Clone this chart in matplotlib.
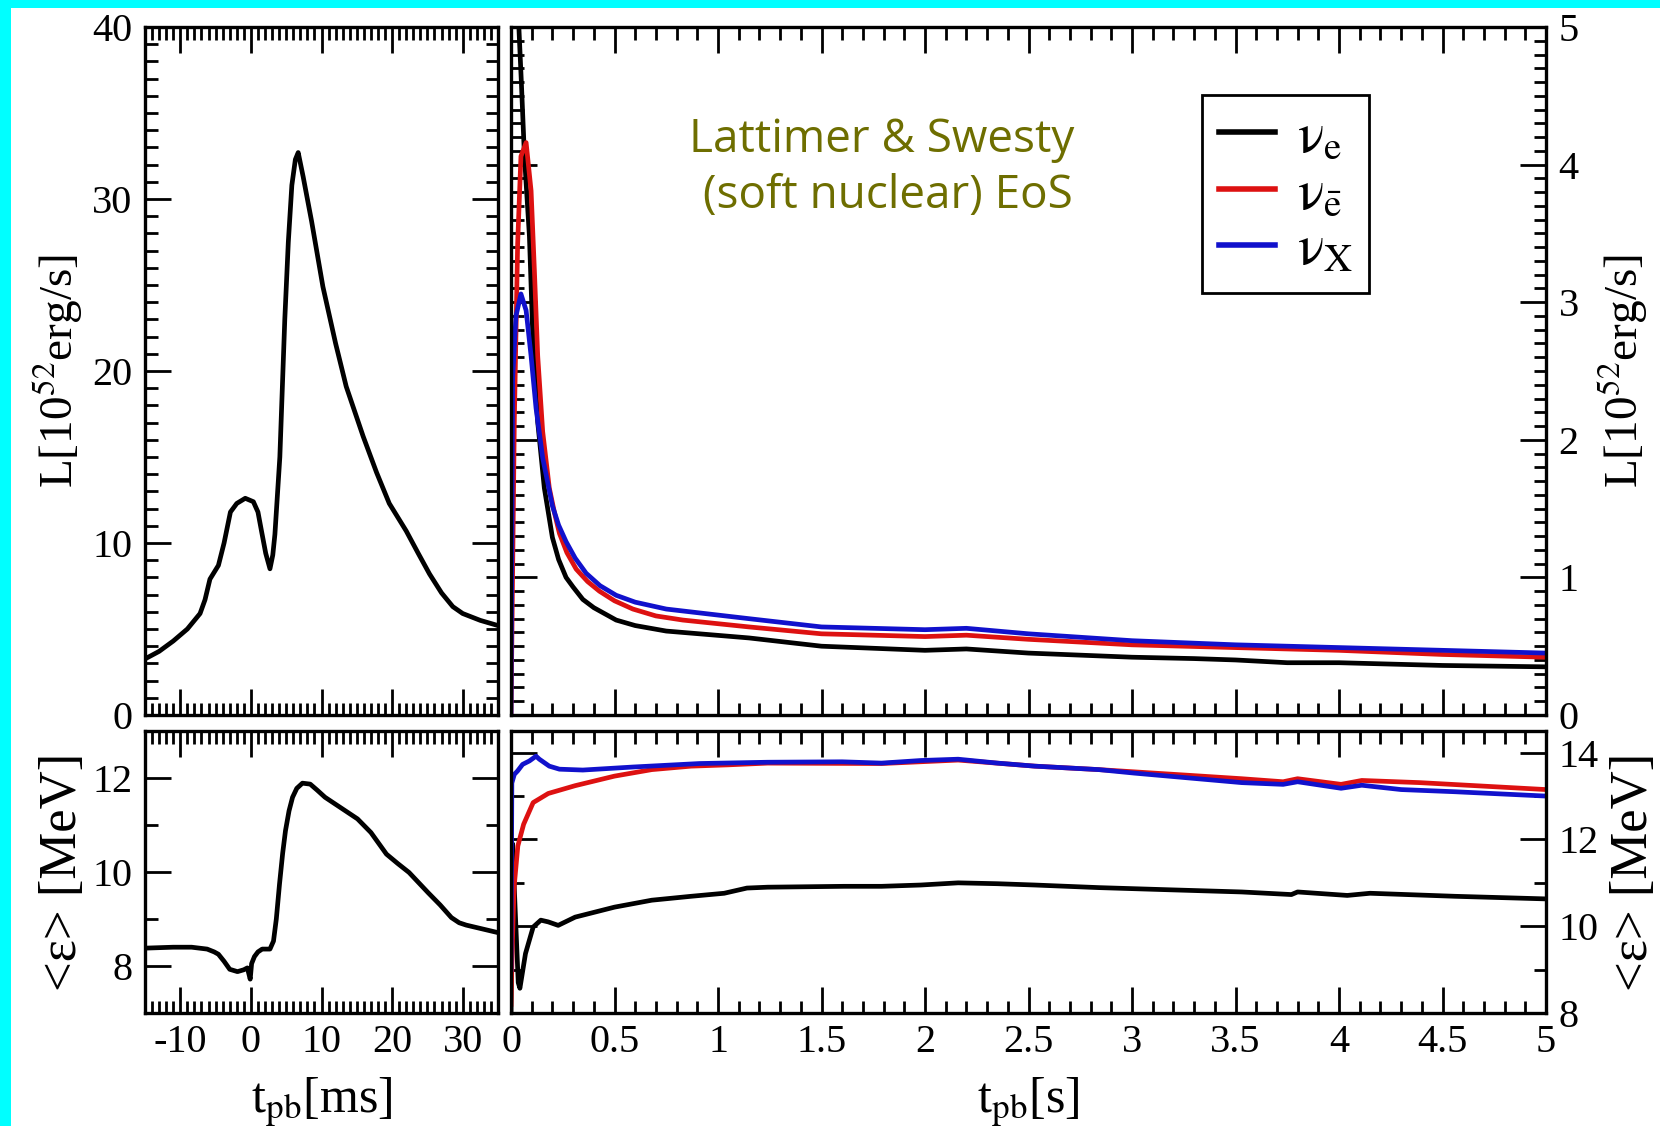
import matplotlib
matplotlib.use("Agg")
import matplotlib.pyplot as plt
import matplotlib.patches as patches
from matplotlib.ticker import MultipleLocator

plt.rcParams['font.family'] = ['Liberation Serif', 'DejaVu Serif']
plt.rcParams['mathtext.fontset'] = 'stix'
plt.rcParams['axes.unicode_minus'] = False

# --- luminosity / mean energy around bounce (ms), nu_e only ---
ms_lum_t = [-15, -13, -11, -9, -7.2, -6.5, -5.8, -4.6, -3.8, -2.9, -2.0, -0.8, 0.35, 1.0,
            1.5, 2.1, 2.7, 3.1, 3.4, 4.1, 4.8, 5.3, 5.8, 6.3, 6.7, 7.4, 8.6, 10.2, 12.0,
            13.5, 15.9, 17.8, 19.6, 22.0, 23.7, 25.3, 27.0, 28.6, 30.0, 32.5, 35.0]
ms_lum = [3.26, 3.7, 4.3, 5.0, 5.9, 6.7, 7.9, 8.7, 10.0, 11.8, 12.3, 12.6, 12.4, 11.8,
          10.7, 9.4, 8.5, 9.3, 10.5, 15.0, 23.0, 27.5, 30.8, 32.3, 32.7, 31.3, 28.7, 24.9, 21.6,
          19.1, 16.2, 14.1, 12.3, 10.7, 9.4, 8.2, 7.1, 6.3, 5.9, 5.5, 5.2]

ms_e_t = [-15, -11, -8.4, -6.2, -5.2, -4.6, -3.8, -3.0, -1.9, -1.0, -0.5, -0.1, 0.1, 0.5,
          1.0, 1.6, 2.7, 3.2, 3.6, 4.05, 4.5, 4.9, 5.4, 5.9, 6.5, 7.3, 8.4, 9.4, 10.5, 12.7,
          15.1, 17.0, 19.2, 20.8, 22.4, 25.1, 26.8, 28.4, 29.5, 30.5, 35.0]
ms_e = [8.38, 8.40, 8.40, 8.36, 8.30, 8.25, 8.10, 7.93, 7.88, 7.92, 7.96, 7.72, 8.05, 8.20,
        8.30, 8.36, 8.36, 8.53, 9.00, 9.74, 10.40, 10.88, 11.30, 11.59, 11.78, 11.89, 11.87,
        11.74, 11.59, 11.37, 11.13, 10.84, 10.38, 10.18, 9.99, 9.56, 9.30, 9.03, 8.92, 8.87, 8.71]

# --- long-term luminosities (s) ---
nue_lum_t = [0.0, 0.005, 0.007, 0.010, 0.016, 0.022, 0.029, 0.035, 0.05, 0.065, 0.089, 0.105,
             0.129, 0.161, 0.2, 0.23, 0.266, 0.3, 0.347, 0.4, 0.508, 0.6, 0.75, 1.15, 1.5,
             2.0, 2.2, 2.5, 3.0, 3.3, 3.5, 3.75, 4.0, 4.5, 5.0]
nue_lum = [12.4, 23.0, 32.7, 24.9, 16.2, 10.7, 6.3, 5.1, 4.6, 4.06, 3.48, 2.77,
           2.13, 1.65, 1.29, 1.13, 1.0, 0.93, 0.84, 0.78, 0.69, 0.65, 0.61, 0.56, 0.50,
           0.47, 0.48, 0.45, 0.42, 0.41, 0.40, 0.38, 0.38, 0.36, 0.35]

anue_lum_t = [0.0, 0.016, 0.032, 0.048, 0.073, 0.097, 0.113, 0.129, 0.153, 0.185, 0.21, 0.234,
              0.27, 0.315, 0.37, 0.427, 0.5, 0.589, 0.7, 0.83, 1.15, 1.5, 2.0, 2.2, 2.5, 3.0,
              3.5, 4.0, 4.5, 5.0]
anue_lum = [0.0, 2.13, 3.42, 4.06, 4.16, 3.81, 3.23, 2.61, 2.06, 1.65, 1.47, 1.32,
            1.18, 1.06, 0.97, 0.90, 0.83, 0.77, 0.72, 0.69, 0.64, 0.59, 0.57, 0.58, 0.55, 0.51,
            0.49, 0.47, 0.44, 0.42]

nux_lum_t = [0.0, 0.008, 0.024, 0.048, 0.073, 0.097, 0.121, 0.153, 0.2, 0.23, 0.266, 0.31,
             0.363, 0.43, 0.508, 0.6, 0.75, 1.15, 1.5, 2.0, 2.2, 2.5, 3.0, 3.5, 4.0, 4.5, 5.0]
nux_lum = [0.0, 2.45, 2.9, 3.06, 2.94, 2.61, 2.23, 1.87, 1.52, 1.38, 1.26, 1.14,
           1.03, 0.94, 0.87, 0.82, 0.77, 0.70, 0.64, 0.62, 0.63, 0.59, 0.54, 0.51, 0.49, 0.47,
           0.45]

# --- long-term mean energies (s) ---
nue_e_t = [0.0, 0.0075, 0.02, 0.035, 0.043, 0.07, 0.107, 0.144, 0.18, 0.228, 0.31, 0.5, 0.68,
           0.87, 1.03, 1.14, 1.24, 1.61, 1.79, 1.98, 2.16, 2.35, 2.53, 2.84, 3.18, 3.53,
           3.77, 3.80, 4.04, 4.15, 4.56, 5.0]
nue_e = [7.9, 11.9, 10.4, 8.7, 8.57, 9.37, 9.98, 10.14, 10.10, 10.02, 10.21, 10.44, 10.6,
         10.69, 10.76, 10.88, 10.9, 10.92, 10.92, 10.95, 11.0, 10.98, 10.95, 10.89, 10.84, 10.79,
         10.73, 10.79, 10.71, 10.76, 10.69, 10.63]

anue_e_t = [0.0, 0.006, 0.015, 0.033, 0.061, 0.107, 0.18, 0.31, 0.5, 0.68, 0.87, 1.05, 1.24,
            1.79, 2.16, 2.53, 2.84, 3.27, 3.53, 3.73, 3.80, 4.01, 4.11, 4.39, 5.0]
anue_e = [8.2, 9.5, 10.9, 11.85, 12.35, 12.85, 13.06, 13.24, 13.46, 13.61, 13.69, 13.72, 13.76,
          13.75, 13.83, 13.69, 13.61, 13.48, 13.40, 13.33, 13.40, 13.27, 13.36, 13.31, 13.15]

nux_e_t = [0.0, 0.004, 0.016, 0.032, 0.056, 0.089, 0.121, 0.137, 0.185, 0.234, 0.347, 0.59,
           0.91, 1.24, 1.6, 1.79, 1.98, 2.16, 2.35, 2.53, 2.84, 3.01, 3.27, 3.53, 3.73, 3.80,
           4.01, 4.11, 4.30, 4.56, 5.0]
nux_e = [9.0, 13.3, 13.5, 13.58, 13.73, 13.81, 13.92, 13.85, 13.69, 13.62, 13.6, 13.67,
         13.75, 13.78, 13.79, 13.76, 13.82, 13.85, 13.76, 13.69, 13.61, 13.53, 13.42, 13.31,
         13.27, 13.33, 13.18, 13.25, 13.15, 13.10, 13.0]

labels = [r'$\mathrm{\nu}_{\mathrm{e}}$', r'$\mathrm{\nu}_{\bar{\mathrm{e}}}$',
          r'$\mathrm{\nu}_{\mathrm{X}}$']
colors = ['black', '#dd1111', '#1111cc']

TICK_FS = 29
LABEL_FS = 34
E_LABEL_FS = 38
LW = 3.4
W, H = 1660, 1126

fig = plt.figure(figsize=(W / 100, H / 100), dpi=100)
fig.patch.set_facecolor('white')

# cyan frame on the left and top edges
fig.patches.append(patches.Rectangle((0, 0), 11 / W, 1, transform=fig.transFigure,
                                     facecolor='#00ffff', edgecolor='none'))
fig.patches.append(patches.Rectangle((0, 1 - 8 / H), 1, 8 / H, transform=fig.transFigure,
                                     facecolor='#00ffff', edgecolor='none'))


def box(x0, y0, x1, y1):
    """pixel box (top-left origin) -> figure fraction rect"""
    return [x0 / W, 1 - y1 / H, (x1 - x0) / W, (y1 - y0) / H]


ax_lms = fig.add_axes(box(145, 27, 498, 715))
ax_ls = fig.add_axes(box(511, 27, 1546, 715))
ax_ems = fig.add_axes(box(145, 731, 498, 1013))
ax_es = fig.add_axes(box(511, 731, 1546, 1013))


def style(ax, xmaj, xmin, ymaj, ymin):
    ax.xaxis.set_major_locator(MultipleLocator(xmaj))
    ax.xaxis.set_minor_locator(MultipleLocator(xmin))
    ax.yaxis.set_major_locator(MultipleLocator(ymaj))
    ax.yaxis.set_minor_locator(MultipleLocator(ymin))
    ax.tick_params(which='both', direction='in', top=True, right=True,
                   labelsize=TICK_FS, width=2.0)
    ax.tick_params(which='major', length=19)
    ax.tick_params(which='minor', length=9)
    ax.tick_params(axis='y', pad=9)
    ax.tick_params(axis='x', pad=8)
    for sp in ax.spines.values():
        sp.set_linewidth(2.4)


# top left: luminosity around bounce
ax_lms.plot(ms_lum_t, ms_lum, color='black', lw=LW)
ax_lms.set_xlim(-15, 35)
ax_lms.set_ylim(0, 40)
style(ax_lms, 10, 1, 10, 1)
ax_lms.tick_params(labelbottom=False)
ax_lms.set_ylabel(r'L[10$^{52}$erg/s]', fontsize=LABEL_FS, labelpad=5)

# bottom left: mean energy around bounce
ax_ems.plot(ms_e_t, ms_e, color='black', lw=LW)
ax_ems.set_xlim(-15, 35)
ax_ems.set_ylim(7, 13)
style(ax_ems, 10, 1, 2, 1)
ax_ems.set_ylabel('<ε> [MeV]', fontsize=E_LABEL_FS, labelpad=4)
ax_ems.set_xlabel(r't$_{\mathrm{pb}}$[ms]', fontsize=LABEL_FS + 2, labelpad=10)

# top right: long-term luminosities
for t, v, c, lab in zip([nue_lum_t, anue_lum_t, nux_lum_t],
                        [nue_lum, anue_lum, nux_lum], colors, labels):
    ax_ls.plot(t, v, color=c, lw=LW, label=lab)
ax_ls.set_xlim(0, 5)
ax_ls.set_ylim(0, 5)
style(ax_ls, 0.5, 0.1, 1, 0.1)
ax_ls.tick_params(labelbottom=False, labelleft=False, labelright=True)
ax_ls.yaxis.set_label_position('right')
ax_ls.set_ylabel(r'L[10$^{52}$erg/s]', fontsize=LABEL_FS, labelpad=12)

leg = ax_ls.legend(loc='upper left', bbox_to_anchor=(0.668, 0.901), fontsize=40,
                   frameon=True, fancybox=False, framealpha=1, edgecolor='black',
                   handlelength=1.0, handletextpad=0.4, labelspacing=0.08,
                   borderpad=0.3, borderaxespad=0)
leg.get_frame().set_linewidth(2.0)
for line in leg.get_lines():
    line.set_linewidth(4.0)

ax_ls.text(0.358, 0.795, 'Lattimer & Swesty\n (soft nuclear) EoS', transform=ax_ls.transAxes,
           ha='center', va='center', multialignment='center', fontsize=33,
           family='Open Sans', color='#6e6e00', linespacing=1.3)

# bottom right: long-term mean energies
for t, v, c in zip([nue_e_t, anue_e_t, nux_e_t], [nue_e, anue_e, nux_e], colors):
    ax_es.plot(t, v, color=c, lw=LW)
ax_es.set_xlim(0, 5)
ax_es.set_ylim(8, 14.5)
style(ax_es, 0.5, 0.1, 2, 1)
ax_es.tick_params(labelleft=False, labelright=True)
ax_es.xaxis.set_major_formatter(plt.FuncFormatter(lambda v, p: f'{v:g}'))
ax_es.yaxis.set_label_position('right')
ax_es.set_ylabel('<ε> [MeV]', fontsize=E_LABEL_FS, labelpad=8)
ax_es.set_xlabel(r't$_{\mathrm{pb}}$[s]', fontsize=LABEL_FS + 2, labelpad=10)

fig.savefig('out.png', dpi=100, facecolor=fig.get_facecolor())
